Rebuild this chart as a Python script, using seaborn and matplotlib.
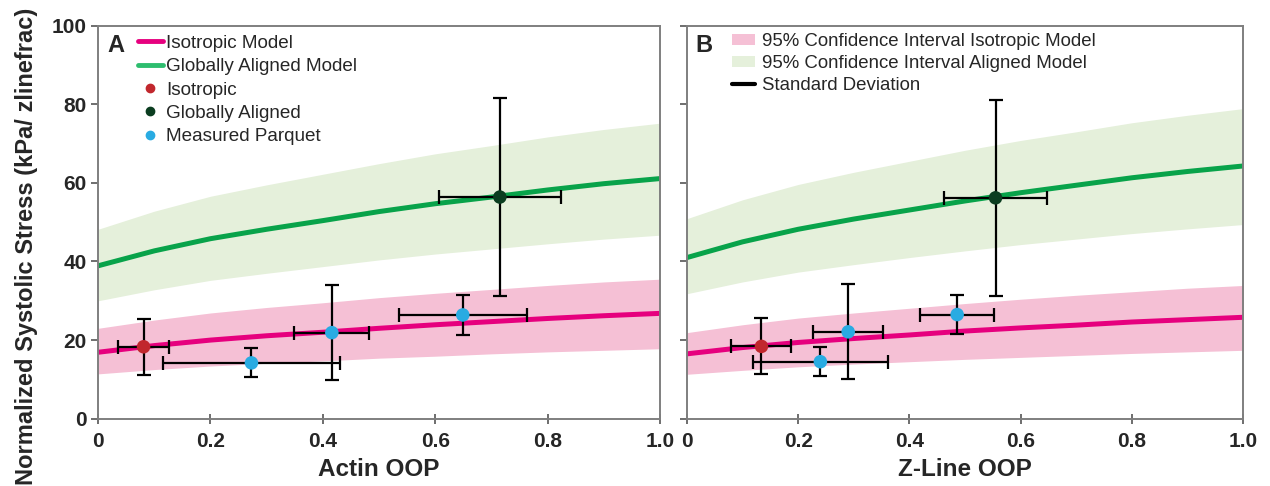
import matplotlib
matplotlib.use('Agg')
import matplotlib.pyplot as plt
from matplotlib.lines import Line2D
from matplotlib.patches import Patch
import seaborn as sns
import pandas as pd

# model curves at x = 0, 0.1, ..., 1.0
oop_grid = [0.0, 0.1, 0.2, 0.3, 0.4, 0.5, 0.6, 0.7, 0.8, 0.9, 1.0]

actin_iso = [16.9, 18.6, 20.0, 21.1, 22.0, 23.0, 23.9, 24.7, 25.5, 26.2, 26.8]
actin_iso_hi = [23.0, 25.1, 26.9, 28.3, 29.5, 30.8, 31.9, 32.9, 33.9, 34.8, 35.5]
actin_iso_lo = [11.4, 12.5, 13.4, 14.1, 14.7, 15.4, 15.9, 16.5, 17.0, 17.4, 17.8]
actin_al = [38.9, 42.7, 45.8, 48.2, 50.4, 52.7, 54.7, 56.4, 58.2, 59.8, 61.1]
actin_al_hi = [48.2, 52.8, 56.6, 59.5, 62.2, 64.9, 67.4, 69.5, 71.7, 73.6, 75.2]
actin_al_lo = [30.0, 32.8, 35.2, 37.0, 38.7, 40.4, 41.9, 43.2, 44.5, 45.7, 46.7]

zline_iso = [16.5, 18.1, 19.4, 20.4, 21.3, 22.3, 23.1, 23.8, 24.6, 25.2, 25.8]
zline_iso_hi = [21.9, 23.9, 25.6, 26.9, 28.1, 29.3, 30.4, 31.4, 32.3, 33.2, 33.9]
zline_iso_lo = [11.3, 12.3, 13.2, 13.9, 14.5, 15.1, 15.6, 16.1, 16.6, 17.0, 17.4]
zline_al = [41.0, 45.0, 48.2, 50.8, 53.1, 55.4, 57.5, 59.4, 61.3, 62.9, 64.3]
zline_al_hi = [50.9, 55.7, 59.6, 62.7, 65.5, 68.3, 70.8, 73.0, 75.3, 77.2, 78.9]
zline_al_lo = [31.8, 34.8, 37.3, 39.2, 41.0, 42.7, 44.3, 45.7, 47.1, 48.3, 49.4]

# measured tissues: isotropic, parquet x3, globally aligned
groups = ['Isotropic', 'Measured Parquet', 'Measured Parquet', 'Measured Parquet', 'Globally Aligned']
stress = [18.3, 14.2, 21.9, 26.4, 56.4]
stress_sd = [7.1, 3.7, 12.1, 5.0, 25.1]
actin_oop = [0.081, 0.273, 0.416, 0.649, 0.715]
actin_sd = [0.045, 0.157, 0.067, 0.114, 0.109]
zline_oop = [0.134, 0.240, 0.290, 0.486, 0.555]
zline_sd = [0.054, 0.121, 0.063, 0.066, 0.092]
stress_b = [18.4, 14.5, 22.1, 26.5, 56.2]
stress_b_sd = [7.1, 3.7, 12.1, 5.0, 25.0]

PINK = '#e6007e'
PINK_BAND = '#f5c0d5'
GREEN = '#08a34a'
GREEN_BAND = '#e5f0db'
point_colors = {'Isotropic': '#c1272d', 'Globally Aligned': '#0b3d20', 'Measured Parquet': '#29abe2'}

sns.set_theme(style='white')
plt.rcParams['font.family'] = ['Liberation Sans', 'DejaVu Sans']

fig = plt.figure(figsize=(12.7, 4.86), dpi=100)
ax_a = fig.add_axes([0.0772, 0.1385, 0.4425, 0.8086])
ax_b = fig.add_axes([0.5409, 0.1385, 0.4378, 0.8086])


def draw_panel(ax, iso, iso_hi, iso_lo, al, al_hi, al_lo, xs, xs_sd, ys, ys_sd, xlabel):
    curves = pd.DataFrame({'oop': oop_grid, 'iso': iso, 'al': al})
    ax.fill_between(oop_grid, al_lo, al_hi, color=GREEN_BAND, lw=0, zorder=1)
    ax.fill_between(oop_grid, iso_lo, iso_hi, color=PINK_BAND, lw=0, zorder=1)
    sns.lineplot(data=curves, x='oop', y='al', ax=ax, color=GREEN, lw=3.6, zorder=2)
    sns.lineplot(data=curves, x='oop', y='iso', ax=ax, color=PINK, lw=3.6, zorder=2)
    ax.errorbar(xs, ys, xerr=xs_sd, yerr=ys_sd, fmt='none', ecolor='black',
                elinewidth=1.6, capsize=5, capthick=1.6, zorder=3)
    pts = pd.DataFrame({'x': xs, 'y': ys, 'group': groups})
    sns.scatterplot(data=pts, x='x', y='y', hue='group', palette=point_colors, s=95,
                    edgecolor='none', legend=False, ax=ax, zorder=4)
    ax.set_xlim(0, 1.0)
    ax.set_ylim(0, 100)
    ax.set_xticks([0, 0.2, 0.4, 0.6, 0.8, 1.0])
    ax.set_xticklabels(['0', '0.2', '0.4', '0.6', '0.8', '1.0'])
    ax.set_yticks([0, 20, 40, 60, 80, 100])
    ax.set_xlabel(xlabel, fontsize=17.5, fontweight='bold', labelpad=5)
    ax.set_ylabel('')
    for sp in ax.spines.values():
        sp.set_color('#7f7f7f')
        sp.set_linewidth(1.4)
    ax.tick_params(axis='y', direction='out', length=5, width=1.2, color='#555555', left=True, pad=3)
    ax.tick_params(axis='x', direction='inout', length=7, width=1.2, color='#555555', bottom=True, pad=6)
    for lab in ax.get_xticklabels() + ax.get_yticklabels():
        lab.set_fontsize(15)
        lab.set_fontweight('bold')


draw_panel(ax_a, actin_iso, actin_iso_hi, actin_iso_lo, actin_al, actin_al_hi, actin_al_lo,
           actin_oop, actin_sd, stress, stress_sd, 'Actin OOP')
draw_panel(ax_b, zline_iso, zline_iso_hi, zline_iso_lo, zline_al, zline_al_hi, zline_al_lo,
           zline_oop, zline_sd, stress_b, stress_b_sd, 'Z-Line OOP')
ax_b.set_yticklabels([])

fig.text(27 / 1270, 1 - 246 / 486, 'Normalized Systolic Stress (kPa/ zlinefrac)', rotation=90,
         fontsize=17, fontweight='bold', ha='center', va='center')

ax_a.text(0.016, 0.95, 'A', transform=ax_a.transAxes, fontsize=17, fontweight='bold', va='center')
ax_b.text(0.016, 0.95, 'B', transform=ax_b.transAxes, fontsize=17, fontweight='bold', va='center')

handles_a = [
    Line2D([], [], color=PINK, lw=3.5),
    Line2D([], [], color='#2dbd6e', lw=3.5),
    Line2D([], [], ls='none', marker='o', ms=6, color=point_colors['Isotropic']),
    Line2D([], [], ls='none', marker='o', ms=6, color=point_colors['Globally Aligned']),
    Line2D([], [], ls='none', marker='o', ms=6, color=point_colors['Measured Parquet']),
]
labels_a = ['Isotropic Model', 'Globally Aligned Model', 'Isotropic', 'Globally Aligned', 'Measured Parquet']
ax_a.legend(handles_a, labels_a, loc='upper left', bbox_to_anchor=(0.0577, 0.997), frameon=False,
            fontsize=13.6, handlelength=1.32, handletextpad=0.16, labelspacing=0.33, borderaxespad=0)

handles_b = [
    Patch(facecolor=PINK_BAND, edgecolor='none'),
    Patch(facecolor=GREEN_BAND, edgecolor='none'),
    Line2D([], [], color='black', lw=3),
]
labels_b = ['95% Confidence Interval Isotropic Model', '95% Confidence Interval Aligned Model', 'Standard Deviation']
ax_b.legend(handles_b, labels_b, loc='upper left', bbox_to_anchor=(0.0676, 1.0), frameon=False,
            fontsize=13.4, handlelength=1.24, handleheight=0.55, handletextpad=0.38, labelspacing=0.27,
            borderaxespad=0)

fig.savefig('out.png', dpi=100)
